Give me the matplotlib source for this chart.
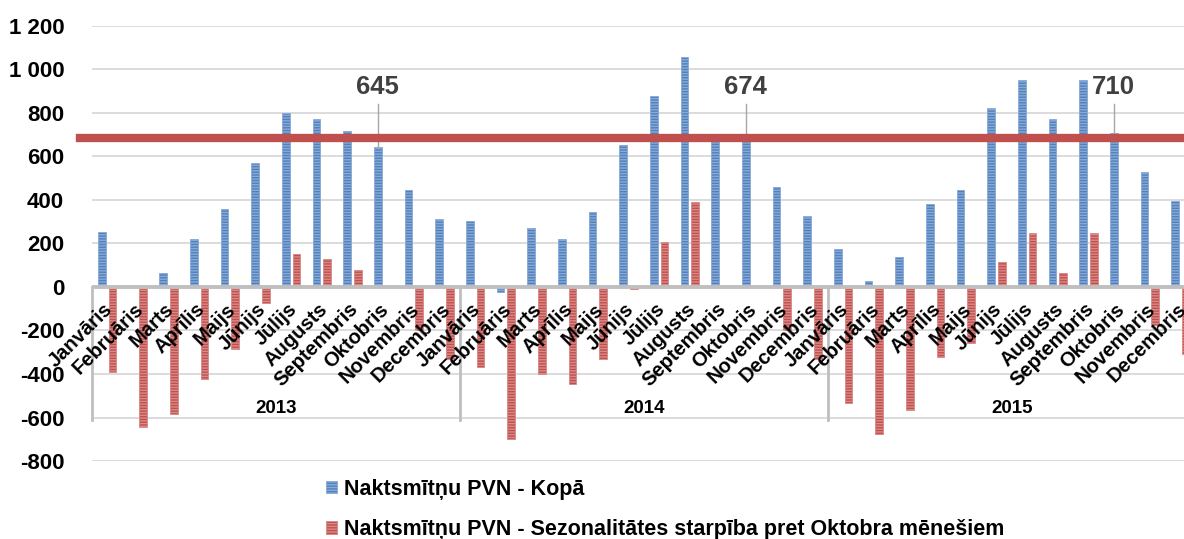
import numpy as np
import matplotlib.pyplot as plt
from matplotlib.patches import Patch
from matplotlib.ticker import FuncFormatter

plt.rcParams['font.family'] = ['Liberation Sans', 'DejaVu Sans']
plt.rcParams['hatch.linewidth'] = 1.0

months = ["Janvāris", "Februāris", "Marts", "Aprīlis", "Maijs", "Jūnijs",
          "Jūlijs", "Augusts", "Septembris", "Oktobris", "Novembris", "Decembris"]
years = ["2013", "2014", "2015"]

kopa = [255, 3, 63, 222, 359, 570, 799, 771, 717, 645, 446, 311,
        305, -25, 270, 222, 343, 654, 877, 1059, 680, 674, 458, 328,
        176, 28, 139, 382, 446, 824, 953, 771, 953, 710, 529, 394]
starpiba = [-392, -642, -584, -423, -286, -72, 152, 129, 77, 0, -198, -330,
            -366, -700, -400, -447, -329, -10, 205, 389, 0, 0, -196, -330,
            -535, -676, -566, -323, -259, 116, 247, 63, 247, 0, -175, -310]
oct_labels = [645, 674, 710]
avg_line = 683

blue = "#4f81bd"
red = "#c0504d"
blue_light = "#8aaad6"
red_light = "#d98a88"

fig = plt.figure(figsize=(11.84, 5.39), dpi=100)
ax = fig.add_axes([0.0777, 0.1447, 0.9324, 0.8071])

n = len(kopa)
x = np.arange(n)
w = 0.25
ax.bar(x - 0.18, kopa, w, color=blue, edgecolor=blue_light, lw=0.6, hatch="------", zorder=3)
ax.bar(x + 0.17, starpiba, w, color=red, edgecolor=red_light, lw=0.6, hatch="------", zorder=3)

ax.set_xlim(-0.5, n - 0.5)
ax.set_ylim(-800, 1200)
ax.set_yticks(np.arange(-800, 1201, 200))
ax.yaxis.set_major_formatter(FuncFormatter(lambda v, p: f"{int(v):,}".replace(",", " ")))
for lbl in ax.get_yticklabels():
    lbl.set_fontweight("bold")
    lbl.set_fontsize(16)
ax.tick_params(axis="y", length=0, pad=20)
ax.tick_params(axis="x", length=0)
ax.set_xticks([])
ax.grid(axis="y", color="#d9d9d9", lw=1.3, zorder=0)
for s in ax.spines.values():
    s.set_visible(False)
ax.axhline(0, color="#bfbfbf", lw=2.8, zorder=4)

# month labels
for i in range(n):
    ax.annotate(months[i % 12], xy=(i, 0), xycoords="data",
                xytext=(-3, -9), textcoords="offset points",
                rotation=45, rotation_mode="anchor", ha="right", va="top",
                fontsize=14.5, fontweight="bold", annotation_clip=False)

# year labels and separators
for k, yr in enumerate(years):
    ax.text(k * 12 + 5.5, -560, yr, ha="center", va="center",
            fontsize=13.5, fontweight="bold")
    ax.plot([k * 12 - 0.5, k * 12 - 0.5], [0, -612], color="#bfbfbf", lw=2,
            clip_on=False, zorder=2)

# average line
ax.plot([-0.9, n], [avg_line, avg_line], color=red, lw=6, clip_on=False, zorder=5)

# october callouts
for k, v in enumerate(oct_labels):
    xi = k * 12 + 9 - 0.18
    ax.plot([xi, xi], [v, 842], color="#a6a6a6", lw=1, zorder=4)
    ax.text(xi, 920, str(v), ha="center", va="center", fontsize=18.5,
            fontweight="bold", color="#404040")

handles = [Patch(facecolor=blue, edgecolor=blue_light, hatch="------", lw=0.6),
           Patch(facecolor=red, edgecolor=red_light, hatch="------", lw=0.6)]
labels = ["Naktsmītņu PVN - Kopā",
          "Naktsmītņu PVN - Sezonalitātes starpība pret Oktobra mēnešiem"]
fig.legend(handles, labels, loc="upper left", bbox_to_anchor=(315 / 1184, 1 - 468 / 539),
           frameon=False, borderpad=0, handlelength=0.5, handleheight=0.5,
           handletextpad=0.33, labelspacing=0.9,
           prop={"weight": "bold", "size": 15.5})

fig.savefig("out.png", dpi=100)
